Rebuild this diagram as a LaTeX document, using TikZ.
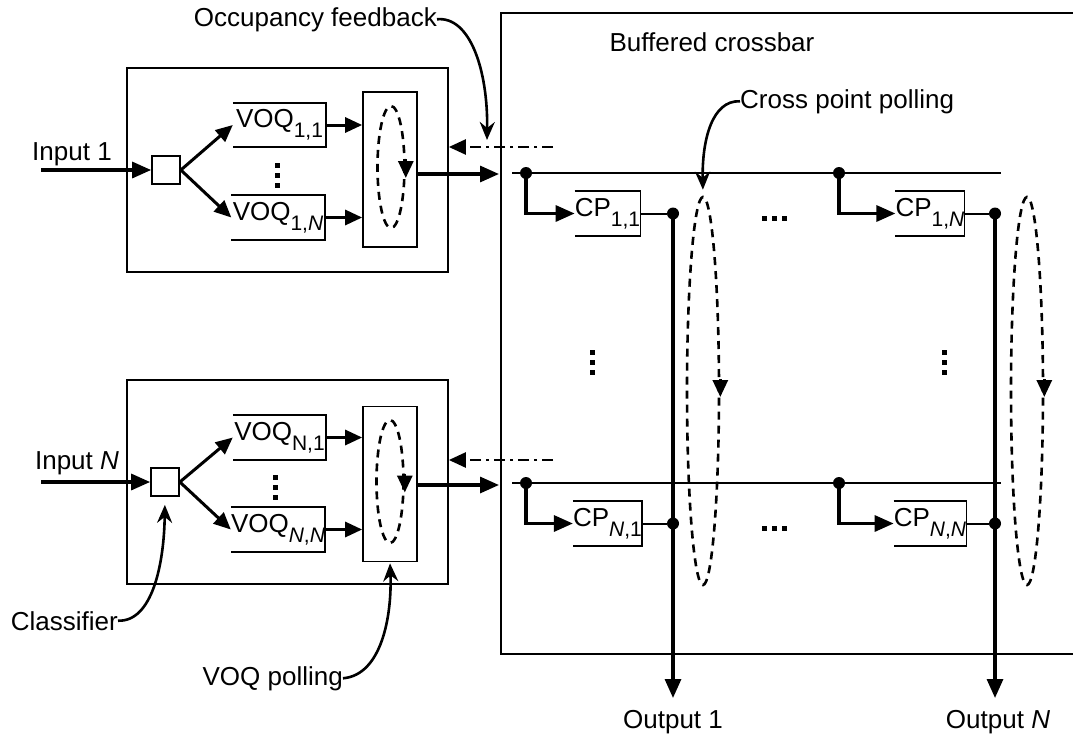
\documentclass[tikz,border=0pt]{standalone}
\usepackage{fontspec}
\setmainfont{Liberation Sans}
\usepackage{tikz}
\usetikzlibrary{arrows.meta, calc, positioning, shapes.geometric}

% subscript in the same sans font
\newcommand{\idx}[1]{\raisebox{-10pt}{\fontsize{21}{22}\selectfont #1}}

\tikzset{
  box/.style={draw, line width=1.7pt},
  queue/.style={minimum width=93pt, minimum height=44pt, inner sep=0pt},
  cpbuf/.style={minimum width=63pt, minimum height=45pt, inner sep=0pt},
  clsbox/.style={draw, line width=1.7pt, minimum size=28pt, inner sep=0pt},
  pollbox/.style={draw, line width=1.7pt, minimum width=54pt, minimum height=155pt},
  ring/.style={draw, ellipse, line width=2.6pt, dash pattern=on 8pt off 6pt, inner sep=0pt},
  flow/.style={line width=3.2pt, -{Triangle[length=19pt,width=16pt]}},
  tip/.style={line width=3pt, -{Triangle[length=17pt,width=15pt]}},
  feedback/.style={line width=2.4pt, dash pattern=on 11pt off 5pt on 3pt off 5pt, -{Triangle[length=17pt,width=15pt]}},
  callout/.style={line width=2.6pt, -{Stealth[length=18pt,width=15pt,inset=6pt]}},
  rowline/.style={line width=2pt},
  jn/.style={circle, fill, inner sep=0pt, minimum size=12pt},
  lbl/.style={inner sep=0pt},
}

\begin{document}
\begin{tikzpicture}[x=1pt, y=-1pt, font=\fontsize{26}{30}\selectfont]
  \useasboundingbox (0,0) rectangle (1073,736);

  % input ports
  \node[box, minimum width=321pt, minimum height=204pt] (in1) at (287.5,170) {};
  \node[box, minimum width=321pt, minimum height=204pt] (in2) at (287.5,482) {};
  \node[clsbox] (cls1) at (166,170) {};
  \node[clsbox] (cls2) at (165,482) {};
  \node[queue] (v11) at (279.5,125) {VOQ\idx{1,1}};
  \node[queue] (v1n) at (278,217.5) {VOQ\idx{1,\textit{N}}};
  \node[queue] (vn1) at (279.5,437.5) {VOQ\idx{N,1}};
  \node[queue] (vnn) at (278,529.5) {VOQ\idx{\textit{N},\textit{N}}};
  \node[pollbox] (pb1) at (390,169.5) {};
  \node[pollbox] (pb2) at (390,484) {};
  \node[ring, minimum width=27pt, minimum height=122pt] (r1) at (391,167) {};
  \node[ring, minimum width=27pt, minimum height=123pt] (r2) at (390,481.5) {};

  \node[lbl, anchor=base] (tin1) at (72,160) {Input 1};
  \node[lbl, anchor=base] (tin2) at (77,469) {Input \textit{N}};
  \coordinate (s1) at (41,170);
  \coordinate (s2) at (41,482);
  \draw[flow] (s1) -- (cls1.west);
  \draw[flow] (s2) -- (cls2.west);

  \draw[tip] (cls1.east) -- (v11.west);
  \draw[tip] (cls1.east) -- (v1n.west);
  \draw[tip] (cls2.east) -- (vn1.west);
  \draw[tip] (cls2.east) -- (vnn.west);
  \foreach \q/\p in {v11/pb1, v1n/pb1, vn1/pb2, vnn/pb2}
    \draw[tip] (\q.east) -- (\q.east -| \p.west);
  \draw[tip] ($(r1.east)+(0,-8)$) -- ($(r1.east)+(0,11)$);
  \draw[tip] ($(r2.east)+(0,-8)$) -- ($(r2.east)+(0,11)$);

  % buffered crossbar
  \draw[box] (1073,13) -- (501,13) -- (501,654) -- (1073,654);
  \node[lbl, anchor=base] (xbar) at (712,51) {Buffered crossbar};

  \coordinate (x1) at (499,174);
  \coordinate (x2) at (499,485);
  \draw[flow] (pb1.east |- x1) -- (x1);
  \draw[flow] (pb2.east |- x2) -- (x2);
  \coordinate (fb1) at (553,147);
  \coordinate (fb2) at (553,460);
  \draw[feedback] (fb1) -- (fb1 -| in1.east);
  \draw[feedback] (fb2) -- (fb2 -| in2.east);

  \coordinate (ra1) at (512,173);
  \coordinate (rb1) at (1001,173);
  \coordinate (ra2) at (512,483);
  \coordinate (rb2) at (1001,483);
  \draw[rowline] (ra1) -- (rb1);
  \draw[rowline] (ra2) -- (rb2);

  \node[cpbuf] (c11) at (607.5,213.5) {CP\idx{1,1}};
  \node[cpbuf] (c1n) at (930,213.5) {CP\idx{1,\textit{N}}};
  \node[cpbuf] (cn1) at (607.5,523.5) {CP\idx{\textit{N},1}};
  \node[cpbuf] (cnn) at (930,523.5) {CP\idx{\textit{N},\textit{N}}};
  \foreach \q in {v11, v1n, vn1, vnn, c11, c1n, cn1, cnn}
    \draw[box] (\q.north west) -- (\q.north east) -- (\q.south east) -- (\q.south west);

  \node[jn] (j11) at (526,173) {};
  \node[jn] (j1n) at (839,173) {};
  \node[jn] (jn1) at (526,483) {};
  \node[jn] (jnn) at (839,483) {};
  \draw[flow] (j11.center) |- (c11.west);
  \draw[flow] (j1n.center) |- (c1n.west);
  \draw[flow] (jn1.center) |- (cn1.west);
  \draw[flow] (jnn.center) |- (cnn.west);

  \node[jn] (o11) at (673,213.5) {};
  \node[jn] (o1n) at (995,213.5) {};
  \node[jn] (on1) at (673,523.5) {};
  \node[jn] (onn) at (995,523.5) {};
  \foreach \c/\o in {c11/o11, c1n/o1n, cn1/on1, cnn/onn}
    \draw[rowline] (\c.east) -- (\o);
  \coordinate (out1) at (673,698);
  \coordinate (outn) at (995,698);
  \draw[flow] (o11.center) -- (out1);
  \draw[flow] (o1n.center) -- (outn);
  \node[lbl, anchor=base] (tout1) at (673,728) {Output 1};
  \node[lbl, anchor=base] (toutn) at (998,728) {Output \textit{N}};

  \node[ring, minimum width=32pt, minimum height=388pt] (rc1) at (703,391) {};
  \node[ring, minimum width=32pt, minimum height=388pt] (rcn) at (1027,391) {};
  \draw[tip] ($(rc1.east)+(0,-12)$) -- ($(rc1.east)+(0,6)$);
  \draw[tip] ($(rcn.east)+(0,-12)$) -- ($(rcn.east)+(0,6)$);

  % dots
  \foreach \x/\y in {277/175, 275/487, 592/362, 944/362}
    \foreach \d in {-10,0,10}
      \fill (\x-2.5,\y+\d-2.5) rectangle ++(5,5);
  \foreach \x/\y in {774/218, 774/528}
    \foreach \d in {-10,0,10}
      \fill (\x+\d-2.5,\y-2.5) rectangle ++(5,5);

  % callouts
  \node[lbl, anchor=base east] (toccu) at (437,26) {Occupancy feedback};
  \coordinate (fbtip) at (487,140);
  \draw[callout] (toccu.east) .. controls (470,16) and (488,70) .. (fbtip);
  \node[lbl, anchor=base west] (tcp) at (740,108) {Cross point polling};
  \draw[callout, shorten >=6pt] (tcp.west) .. controls (712,100) and (702,140) .. (rc1.north);
  \node[lbl, anchor=base east] (tcls) at (118,630) {Classifier};
  \draw[callout, shorten >=8pt] (tcls.east) .. controls (152,622) and (164,565) .. (cls2.south);
  \node[lbl, anchor=base east] (tvp) at (343,685) {VOQ polling};
  \draw[callout, shorten >=1pt] (tvp.east) .. controls (382,675) and (392,615) .. (pb2.south);
\end{tikzpicture}
\end{document}
